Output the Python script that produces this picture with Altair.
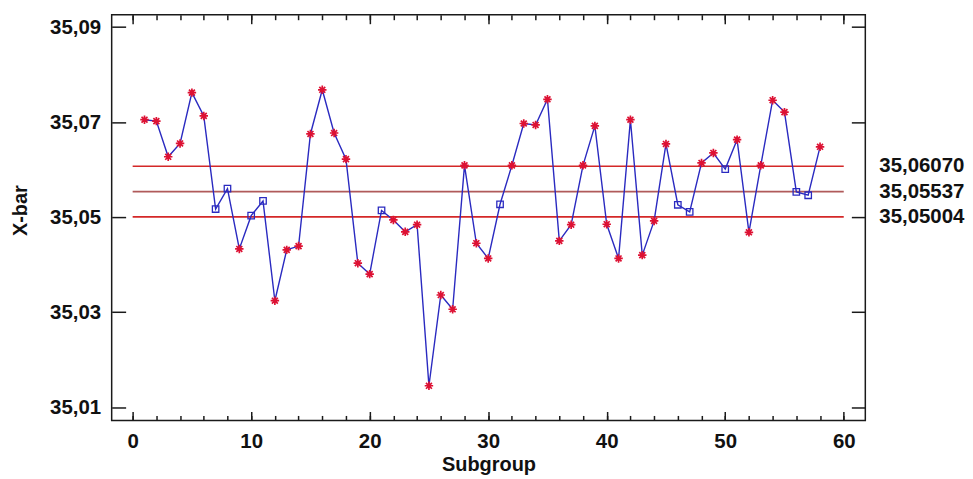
import altair as alt
import pandas as pd

# ---------------- data ----------------
subgroups = list(range(1, 59))
xbar = [
    35.0705, 35.0702, 35.0627, 35.0655, 35.0762, 35.0713, 35.0517, 35.0560, 35.0433, 35.0503,
    35.0534, 35.0324, 35.0431, 35.0439, 35.0675, 35.0768, 35.0677, 35.0622, 35.0403, 35.0380,
    35.0514, 35.0494, 35.0469, 35.0484, 35.0145, 35.0336, 35.0306, 35.0609, 35.0445, 35.0413,
    35.0527, 35.0609, 35.0697, 35.0694, 35.0748, 35.0450, 35.0484, 35.0609, 35.0692, 35.0485,
    35.0413, 35.0705, 35.0420, 35.0492, 35.0654, 35.0526, 35.0511, 35.0614, 35.0635, 35.0601,
    35.0663, 35.0468, 35.0609, 35.0746, 35.0721, 35.0553, 35.0546, 35.0648,
]
limit_names = ["UCL", "CL", "LCL"]
limit_values = [35.06070, 35.05537, 35.05004]
limit_labels = ["35,06070", "35,05537", "35,05004"]
limit_colors = ["#D42828", "#B05A5A", "#D42828"]
limit_start = [0, 0, 0]
limit_end = [60, 60, 60]

y_ticks = [35.01, 35.03, 35.05, 35.07, 35.09]
x_major = [0, 10, 20, 30, 40, 50, 60]
x_minor = list(range(0, 62, 2))
x_domain = [-1.77, 61.82]
y_domain = [35.0072, 35.0926]

# ---------------- styling ----------------
W, H = 756, 407
FONT = "Liberation Sans"
LINE_BLUE = "#2A2AC0"
STAR_RED = "#DD1133"
STAR_PATH = "M-1,0L1,0M0,-1L0,1M-0.7,-0.7L0.7,0.7M-0.7,0.7L0.7,-0.7"

ucl, cl, lcl = limit_values
df = pd.DataFrame({"subgroup": subgroups, "xbar": xbar})
df["status"] = ["in" if lcl <= v <= ucl else "out" for v in xbar]

lim = pd.DataFrame({
    "name": limit_names, "value": limit_values, "label": limit_labels,
    "color": limit_colors, "x0": limit_start, "x1": limit_end,
})

xs = alt.Scale(domain=x_domain, nice=False, zero=False)
ys = alt.Scale(domain=y_domain, nice=False, zero=False)

common = dict(domain=False, grid=False, tickColor="#1a1a1a", tickWidth=1.5,
              labelFont=FONT, labelFontWeight="bold", labelFontSize=20.5, labelColor="#111111",
              titleFont=FONT, titleFontWeight="bold", titleFontSize=20, titleColor="#111111")

x_bottom = alt.Axis(orient="bottom", values=x_major, tickSize=9, offset=-9, labelPadding=11,
                    title="Subgroup", titlePadding=3, format="d", labelFlush=False,
                    labelOverlap=False, **common)
x_top = alt.Axis(orient="top", values=x_major, tickSize=9, offset=-9, labels=False,
                 title=None, **common)
x_bottom_minor = alt.Axis(orient="bottom", values=x_minor, tickSize=5, offset=-5, labels=False,
                          title=None, **common)
x_top_minor = alt.Axis(orient="top", values=x_minor, tickSize=5, offset=-5, labels=False,
                       title=None, **common)
y_left = alt.Axis(orient="left", values=y_ticks, tickSize=14, offset=-14, labelPadding=11,
                  title="X-bar", titlePadding=19, titleY=196,
                  labelExpr="replace(format(datum.value, '.2f'), '.', ',')",
                  labelOverlap=False, labelFlush=False, **common)
y_right = alt.Axis(orient="right", values=y_ticks, tickSize=14, offset=-14, labels=False,
                   title=None, **common)

limits = alt.Chart(lim).mark_rule(strokeWidth=1.6).encode(
    x=alt.X("x0:Q", scale=xs, axis=x_bottom),
    x2="x1:Q",
    y=alt.Y("value:Q", scale=ys, axis=y_left),
    color=alt.Color("color:N", scale=None),
)

line = alt.Chart(df).mark_line(color=LINE_BLUE, strokeWidth=1.4).encode(
    x=alt.X("subgroup:Q", scale=xs, axis=x_top),
    y=alt.Y("xbar:Q", scale=ys, axis=y_right),
)

stars = alt.Chart(df).transform_filter(alt.datum.status == "out").mark_point(
    shape=STAR_PATH, size=72, color=STAR_RED, strokeWidth=1.7, filled=False, opacity=1
).encode(
    x=alt.X("subgroup:Q", scale=xs, axis=x_bottom_minor),
    y=alt.Y("xbar:Q", scale=ys, axis=None),
)

squares = alt.Chart(df).transform_filter(alt.datum.status == "in").mark_point(
    shape="square", size=42, color=LINE_BLUE, strokeWidth=1.3, filled=False, opacity=1
).encode(
    x=alt.X("subgroup:Q", scale=xs, axis=x_top_minor),
    y=alt.Y("xbar:Q", scale=ys, axis=None),
)

labels = alt.Chart(lim).mark_text(
    align="left", baseline="middle", font=FONT, fontWeight="bold", fontSize=20.5, color="#111111"
).encode(
    x=alt.value(W + 14),
    y=alt.Y("value:Q", scale=ys, axis=None),
    text="label:N",
)

chart = alt.layer(limits, line, stars, squares, labels).properties(
    width=W, height=H,
    autosize=alt.AutoSizeParams(type="none"),
    padding={"left": 104, "top": 6, "right": 100, "bottom": 58},
    background="white",
).configure_view(stroke="#1a1a1a", strokeWidth=1.5)

chart.save("out.html", embed_options={"renderer": "svg", "actions": False})
